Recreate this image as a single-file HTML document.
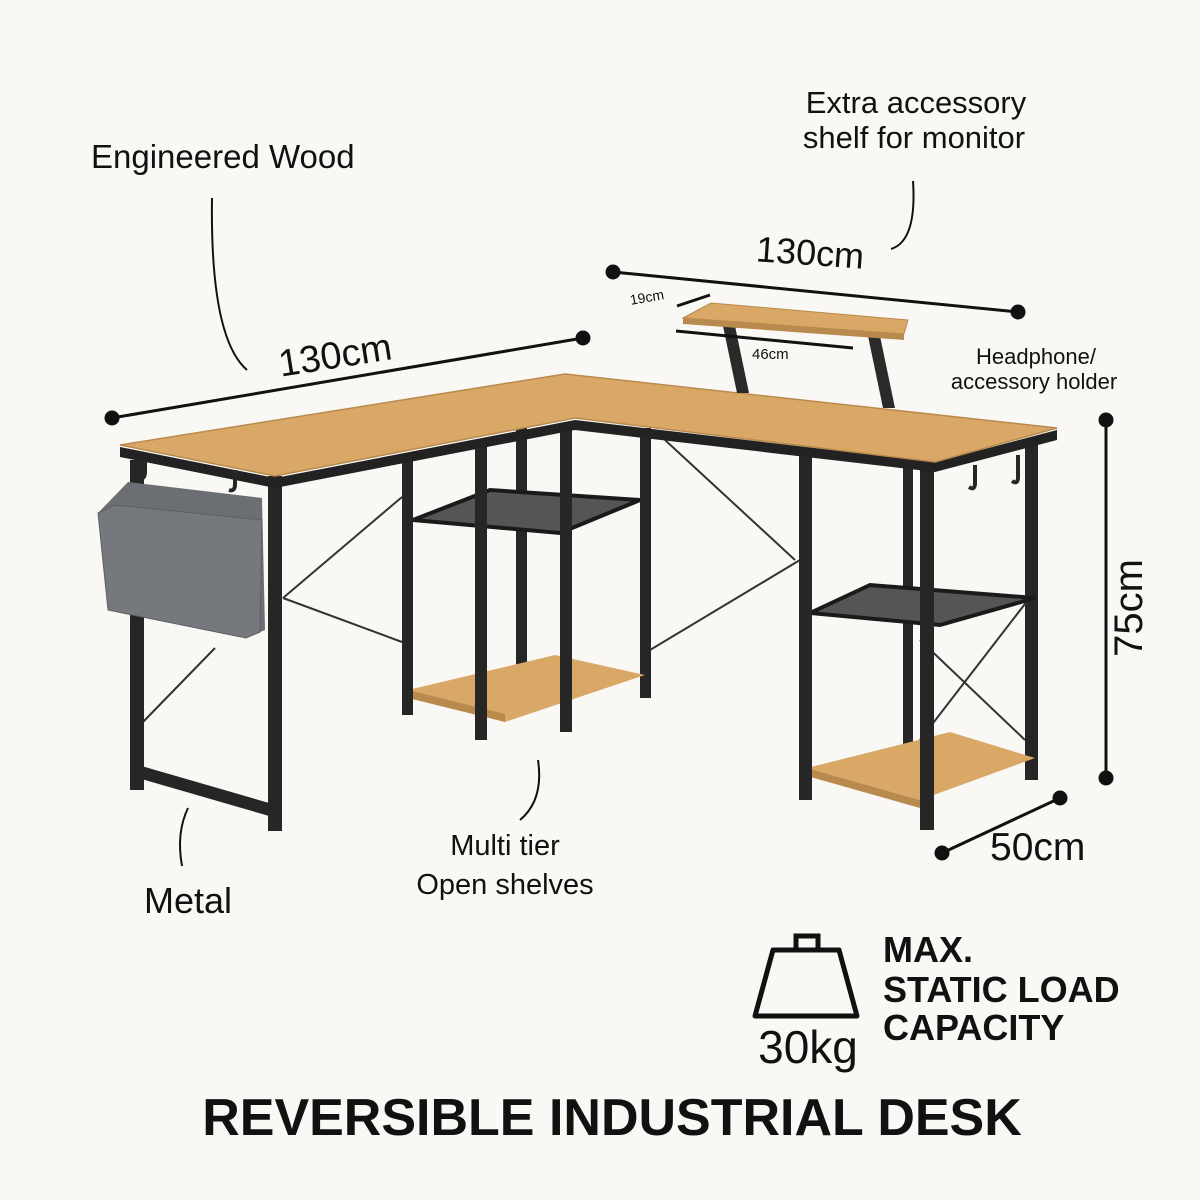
<!DOCTYPE html>
<html><head><meta charset="utf-8"><style>
html,body{margin:0;padding:0;background:#faf8f4;}
svg{display:block}
text{font-family:"Liberation Sans",sans-serif;fill:#111}
</style></head><body>
<svg width="1200" height="1200" viewBox="0 0 1200 1200">
<rect width="1200" height="1200" fill="#faf8f4"/>
<g fill="#262626">
<rect x="516" y="428" width="11" height="272"/>
<rect x="640" y="428" width="11" height="270"/>
<rect x="1025" y="445" width="13" height="335"/>
<rect x="903" y="465" width="10" height="300"/>
</g>
<g stroke="#333" stroke-width="2" fill="none">
<line x1="283" y1="598" x2="402" y2="497"/><line x1="283" y1="598" x2="402" y2="642"/>
<line x1="143" y1="722" x2="215" y2="648"/>
<line x1="650" y1="650" x2="800" y2="560"/><line x1="665" y1="440" x2="795" y2="560"/>
<line x1="920" y1="640" x2="1025" y2="740"/><line x1="920" y1="740" x2="1028" y2="600"/>
</g>
<polygon points="408,690 555,655 645,675 505,722" fill="#d9a866"/>
<polygon points="408,690 505,714 505,722 408,698" fill="#b98a4e"/>
<polygon points="807,768 950,732 1035,758 920,800" fill="#d9a866"/>
<polygon points="807,768 920,800 920,808 807,776" fill="#b98a4e"/>
<polygon points="413,520 490,490 640,500 560,533" fill="#555" stroke="#1a1a1a" stroke-width="4"/>
<polygon points="810,613 870,585 1035,598 940,625" fill="#555" stroke="#1a1a1a" stroke-width="4"/>
<g fill="#262626">
<rect x="130" y="460" width="14" height="330"/>
<rect x="268" y="476" width="14" height="355"/>
<rect x="402" y="455" width="11" height="260"/>
<rect x="475" y="440" width="12" height="300"/>
<rect x="560" y="424" width="12" height="308"/>
<rect x="799" y="450" width="13" height="350"/>
<rect x="920" y="462" width="14" height="368"/>
</g>
<polygon points="138,765 276,805 276,818 138,778" fill="#262626"/>
<polygon points="120,447 275,478 575,420 935,462 1057,430 1057,440 935,472 575,430 275,488 120,457" fill="#222"/>
<polygon points="120,445 565,374 1057,428 935,462 575,418 275,476" fill="#d9a866" stroke="#b98a4e" stroke-width="1.5"/>
<g stroke="#262626" stroke-width="4" fill="none">
<path d="M145,462 v10 q0,8 -6,6"/><path d="M235,470 v14 q0,8 -6,6"/>
<path d="M975,465 v18 q0,8 -6,4"/><path d="M1018,455 v22 q0,8 -6,4"/>
</g>
<polygon points="98,513 128,482 262,498 265,630 246,638 108,610" fill="#6b6e73"/>
<polygon points="98,513 108,610 246,638 260,632 262,520 115,505" fill="#75787d" stroke="#5c5f63"/>
<polygon points="723,326 735,326 749,393 737,393" fill="#2a2a2a"/>
<polygon points="868,336 880,336 895,408 883,408" fill="#2a2a2a"/>
<polygon points="683,318 711,303 908,320 904,334" fill="#d9a866" stroke="#b98a4e"/>
<polygon points="683,318 904,334 904,340 683,324" fill="#b98a4e"/>
<g stroke="#111" stroke-width="3" fill="#111">
<line x1="112" y1="418" x2="583" y2="338"/><circle cx="112" cy="418" r="6"/><circle cx="583" cy="338" r="6"/>
<line x1="613" y1="272" x2="1018" y2="312"/><circle cx="613" cy="272" r="6"/><circle cx="1018" cy="312" r="6"/>
<line x1="677" y1="306" x2="710" y2="295"/>
<line x1="676" y1="331" x2="853" y2="348"/>
<line x1="1106" y1="420" x2="1106" y2="778"/><circle cx="1106" cy="420" r="6"/><circle cx="1106" cy="778" r="6"/>
<line x1="942" y1="853" x2="1060" y2="798"/><circle cx="942" cy="853" r="6"/><circle cx="1060" cy="798" r="6"/>
</g>
<g stroke="#111" stroke-width="2" fill="none">
<path d="M212,198 q-2,140 35,172"/>
<path d="M913,181 q4,60 -22,68"/>
<path d="M538,760 q6,40 -18,60"/>
<path d="M188,808 q-12,25 -6,58"/>
</g>
<text x="91" y="168" font-size="33">Engineered Wood</text>
<text x="916" y="113" font-size="31" text-anchor="middle">Extra accessory</text>
<text x="914" y="148" font-size="31" text-anchor="middle">shelf for monitor</text>
<text x="810" y="265" font-size="36" text-anchor="middle" transform="rotate(4 810 255)">130cm</text>
<text x="335" y="368" font-size="38" text-anchor="middle" transform="rotate(-9 335 355)">130cm</text>
<text x="630" y="305" font-size="14" transform="rotate(-10 630 300)">19cm</text>
<text x="752" y="359" font-size="15">46cm</text>
<text x="1036" y="364" font-size="22" text-anchor="middle">Headphone/</text>
<text x="1034" y="389" font-size="22" text-anchor="middle">accessory holder</text>
<text font-size="40" text-anchor="middle" transform="translate(1142,608) rotate(-90)">75cm</text>
<text x="990" y="860" font-size="39">50cm</text>
<text x="505" y="855" font-size="29" text-anchor="middle">Multi tier</text>
<text x="505" y="894" font-size="29" text-anchor="middle">Open shelves</text>
<text x="188" y="913" font-size="36" text-anchor="middle">Metal</text>
<g stroke="#111" stroke-width="5" fill="none">
<path d="M796,948 v-12 h22 v12"/>
<path d="M773,950 h66 l18,66 h-102 z" stroke-linejoin="round"/>
</g>
<text x="808" y="1063" font-size="46" text-anchor="middle">30kg</text>
<text x="883" y="962" font-size="36" font-weight="bold">MAX.</text>
<text x="883" y="1002" font-size="36" font-weight="bold">STATIC LOAD</text>
<text x="883" y="1040" font-size="36" font-weight="bold">CAPACITY</text>
<text x="612" y="1135" font-size="52" font-weight="bold" text-anchor="middle">REVERSIBLE INDUSTRIAL DESK</text>
</svg>
</body></html>
